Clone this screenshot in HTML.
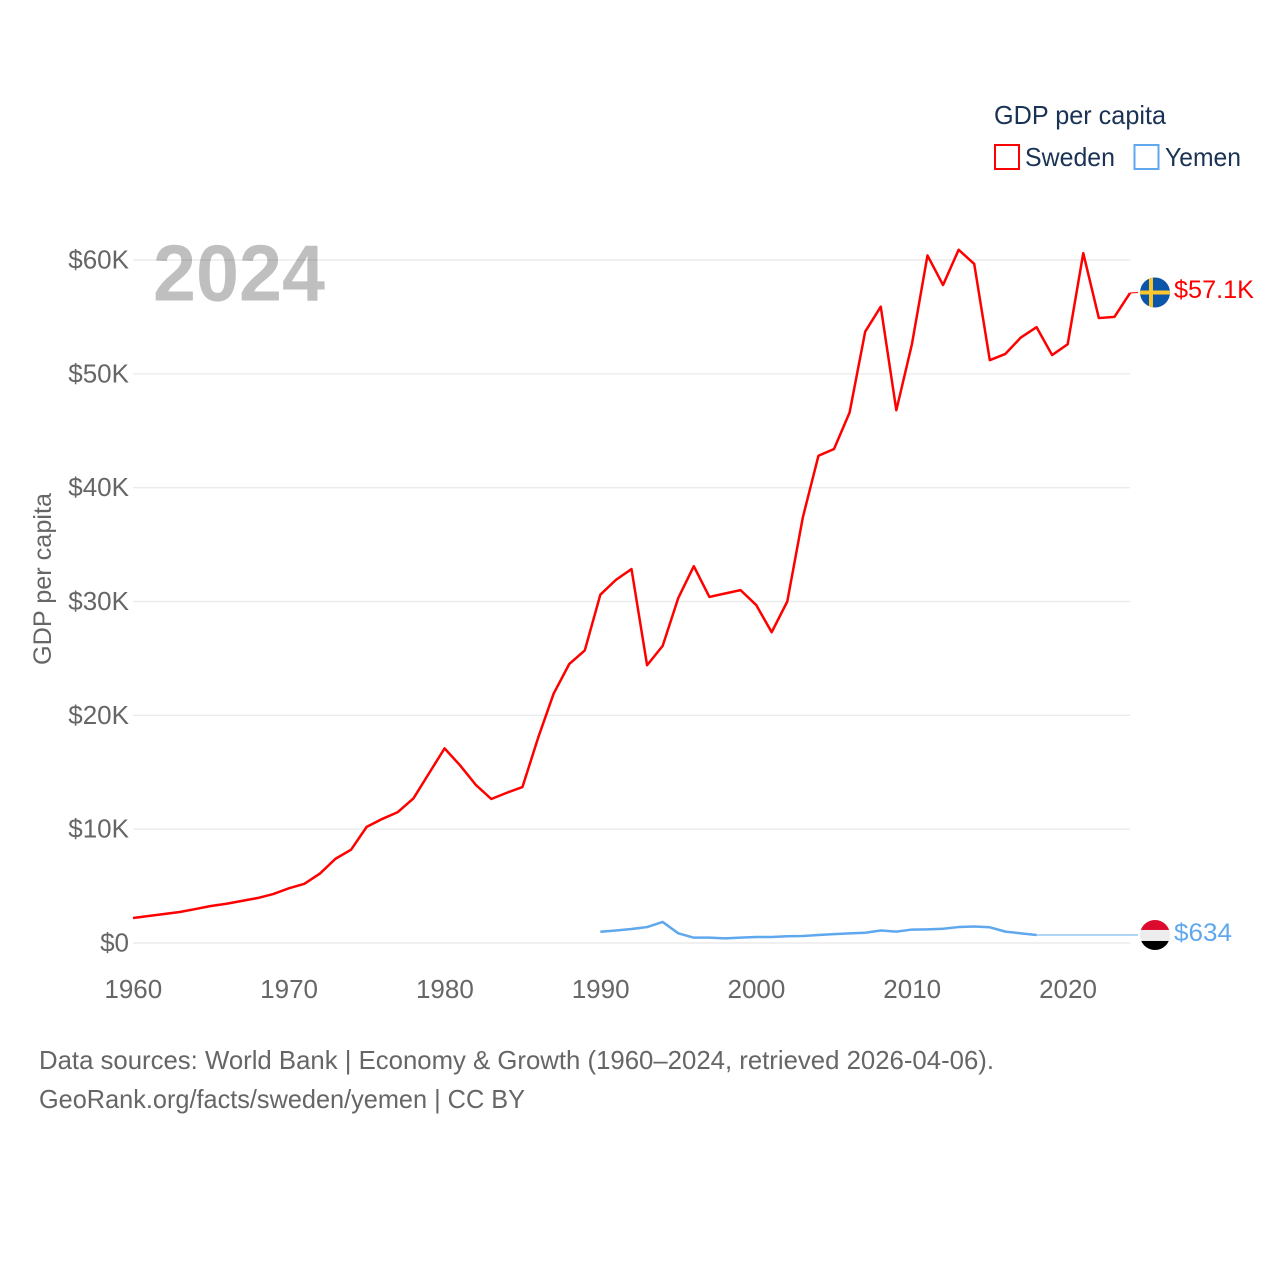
<!DOCTYPE html>
<html lang="en">
<head>
<meta charset="utf-8">
<title>GDP per capita: Sweden and Yemen</title>
<style>
html,body{margin:0;padding:0;background:#fff;}
svg{display:block;font-family:"Liberation Sans",sans-serif;}
</style>
</head>
<body>
<svg id="chart" xmlns="http://www.w3.org/2000/svg" width="1280" height="1280" viewBox="0 0 1280 1280">
  <defs>
    <clipPath id="flag-clip"><circle cx="0" cy="0" r="15"></circle></clipPath>
  </defs>
  <g id="grid"></g>
  <text x="153" y="300.5" font-size="80" font-weight="700" fill="#000" fill-opacity="0.25" textLength="172" lengthAdjust="spacingAndGlyphs">2024</text>
  <g id="y-axis"></g>
  <g id="x-axis"></g>
  <text transform="translate(51,665) rotate(-90)" font-size="25" fill="#666" textLength="172" lengthAdjust="spacingAndGlyphs">GDP per capita</text>
  <g id="series"></g>
  <g id="end-markers"></g>

  <g>
    <text x="994" y="124" font-size="26" fill="#1a3355" textLength="172" lengthAdjust="spacingAndGlyphs">GDP per capita</text>
    <rect x="995" y="145" width="24" height="24" fill="none" stroke="#ff0000" stroke-width="2"></rect>
    <text x="1025" y="166" font-size="26" fill="#1a3355" textLength="90" lengthAdjust="spacingAndGlyphs">Sweden</text>
    <rect x="1134.5" y="145" width="24" height="24" fill="none" stroke="#60a8ee" stroke-width="2"></rect>
    <text x="1165" y="166" font-size="26" fill="#1a3355" textLength="76" lengthAdjust="spacingAndGlyphs">Yemen</text>
  </g>

  <text x="39" y="1069" font-size="26" fill="#666" textLength="955" lengthAdjust="spacingAndGlyphs">Data sources: World Bank | Economy &amp; Growth (1960–2024, retrieved 2026-04-06).</text>
  <text x="39" y="1108" font-size="26" fill="#666" textLength="486" lengthAdjust="spacingAndGlyphs">GeoRank.org/facts/sweden/yemen | CC BY</text>
</svg>
<script>
const swedenYears = [1960,1961,1962,1963,1964,1965,1966,1967,1968,1969,1970,1971,1972,1973,1974,1975,1976,1977,1978,1979,1980,1981,1982,1983,1984,1985,1986,1987,1988,1989,1990,1991,1992,1993,1994,1995,1996,1997,1998,1999,2000,2001,2002,2003,2004,2005,2006,2007,2008,2009,2010,2011,2012,2013,2014,2015,2016,2017,2018,2019,2020,2021,2022,2023,2024];
const swedenValues = [2.2,2.37,2.55,2.72,2.98,3.25,3.45,3.7,3.95,4.3,4.8,5.2,6.1,7.4,8.2,10.2,10.9,11.5,12.7,14.9,17.1,15.6,13.9,12.65,13.2,13.7,18.0,21.9,24.5,25.7,30.6,31.9,32.85,24.4,26.1,30.3,33.1,30.4,30.7,31.0,29.7,27.3,30.0,37.4,42.8,43.4,46.6,53.7,55.9,46.8,52.6,60.4,57.8,60.9,59.65,51.2,51.75,53.2,54.1,51.65,52.6,60.6,54.9,55.0,57.1];
const yemenYears = [1990,1991,1992,1993,1994,1995,1996,1997,1998,1999,2000,2001,2002,2003,2004,2005,2006,2007,2008,2009,2010,2011,2012,2013,2014,2015,2016,2017,2018];
const yemenValues = [0.99,1.1,1.23,1.4,1.85,0.85,0.47,0.47,0.41,0.47,0.53,0.53,0.59,0.62,0.7,0.78,0.85,0.9,1.1,1.0,1.18,1.2,1.25,1.4,1.45,1.38,1.0,0.85,0.7];
const yTickValues = [0,10,20,30,40,50,60];
const yTickLabels = ['$0','$10K','$20K','$30K','$40K','$50K','$60K'];
const xTickValues = [1960,1970,1980,1990,2000,2010,2020];
const xTickLabels = ['1960','1970','1980','1990','2000','2010','2020'];
const swedenLatest = 57.1;
const yemenLatest = 0.634;
const swedenLatestLabel = '$57.1K';
const yemenLatestLabel = '$634';

const NS = 'http://www.w3.org/2000/svg';
function xScale(year){ return 133 + (year - 1960) * (1130 - 133) / 64; }
function yScale(v){ return 943 - v * (943 - 260) / 60; }
function make(tag, attrs, parent){
  const el = document.createElementNS(NS, tag);
  for (const k in attrs) el.setAttribute(k, attrs[k]);
  parent.appendChild(el);
  return el;
}

const grid = document.getElementById('grid');
const yAxis = document.getElementById('y-axis');
const xAxis = document.getElementById('x-axis');
const seriesGroup = document.getElementById('series');
const markers = document.getElementById('end-markers');

yTickValues.forEach(function(v, i){
  const y = yScale(v);
  const line = make('line', {x1:133, x2:1130, y1:y, y2:y, stroke:'#ebebeb', 'stroke-width':1.4}, grid);
  
  
  const t = make('text', {x:129, y:y + 8.5, 'text-anchor':'end', 'font-size':26, fill:'#666'}, yAxis);
  
  
  t.textContent = yTickLabels[i];
});

xTickValues.forEach(function(v, i){
  const t = make('text', {x:xScale(v) + 0.3, y:998, 'text-anchor':'middle', 'font-size':26, fill:'#666'}, xAxis);
  
  
  t.textContent = xTickLabels[i];
});

function pathFor(years, values){
  return years.map(function(yr, i){
    return (i ? 'L' : 'M') + xScale(yr).toFixed(2) + ' ' + yScale(values[i]).toFixed(2);
  }).join(' ');
}

const swedenLine = make('path', {d:pathFor(swedenYears, swedenValues), fill:'none', stroke:'#ff0000', 'stroke-width':2.5, 'stroke-linejoin':'round'}, seriesGroup);


const yemenLine = make('path', {d:pathFor(yemenYears, yemenValues), fill:'none', stroke:'#60a8ee', 'stroke-width':2.5, 'stroke-linejoin':'round'}, seriesGroup);



/* thin connectors from each series' final point to its flag */
const swedenEndX = xScale(swedenYears[swedenYears.length - 1]);
const swedenEndY = yScale(swedenValues[swedenValues.length - 1]);
const swedenFlagY = yScale(swedenLatest) - 0.5;
const swedenConn = make('line', {x1:swedenEndX, y1:swedenEndY, x2:1138, y2:swedenFlagY, stroke:'#ff0000', 'stroke-width':1}, markers);



const yemenEndX = xScale(yemenYears[yemenYears.length - 1]);
const yemenEndY = yScale(yemenValues[yemenValues.length - 1]);
const yemenFlagY = yScale(yemenLatest) - 0.8;
const yemenConn = make('line', {x1:yemenEndX, y1:yemenEndY, x2:1138, y2:yemenFlagY, stroke:'#60a8ee', 'stroke-width':1}, markers);



/* Sweden flag */
const seFlag = make('g', {transform:'translate(1155,' + swedenFlagY + ')', 'clip-path':'url(#flag-clip)'}, markers);


make('rect', {x:-16, y:-16, width:32, height:32, fill:'#0b56a8'}, seFlag);
make('rect', {x:-6, y:-16, width:4, height:32, fill:'#fcc62d'}, seFlag);
make('rect', {x:-16, y:-2, width:32, height:4, fill:'#fcc62d'}, seFlag);

const seLabel = make('text', {x:1174, y:swedenFlagY + 5.5, 'font-size':25, fill:'#ff0000', textLength:80, lengthAdjust:'spacingAndGlyphs'}, markers);


seLabel.textContent = swedenLatestLabel;

/* Yemen flag */
const yeFlag = make('g', {transform:'translate(1155,' + yemenFlagY + ')', 'clip-path':'url(#flag-clip)'}, markers);


make('rect', {x:-16, y:-16, width:32, height:11, fill:'#dc0a2d'}, yeFlag);
make('rect', {x:-16, y:-5, width:32, height:11, fill:'#ededed'}, yeFlag);
make('rect', {x:-16, y:6, width:32, height:11, fill:'#000000'}, yeFlag);

const yeLabel = make('text', {x:1174, y:yemenFlagY + 6, 'font-size':25, fill:'#60a8ee', textLength:58, lengthAdjust:'spacingAndGlyphs'}, markers);


yeLabel.textContent = yemenLatestLabel;
</script>
</body>
</html>
